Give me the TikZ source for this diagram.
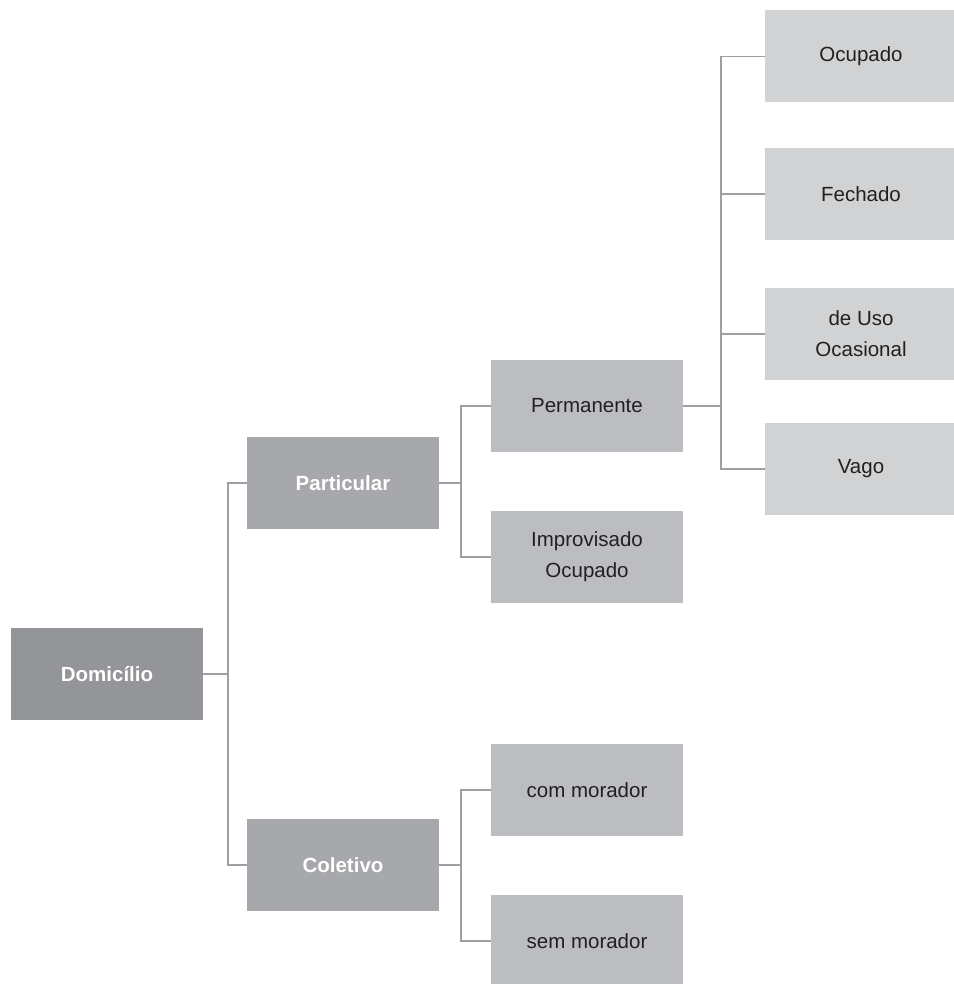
\documentclass[tikz,border=0pt]{standalone}
\usepackage{fontspec}
\setmainfont{Liberation Sans}
\definecolor{cdark}{RGB}{148,149,152}
\definecolor{cmid}{RGB}{167,168,171}
\definecolor{clight}{RGB}{188,189,192}
\definecolor{cpale}{RGB}{209,210,212}
\definecolor{cline}{RGB}{158,159,162}
\definecolor{ctext}{RGB}{35,31,32}
\tikzset{
  box/.style={rectangle, minimum width=192pt, minimum height=92pt, inner sep=0pt,
    align=center, font=\fontsize{20.5}{31}\selectfont},
  boldbox/.style={box, text=white, font=\fontsize{20.5}{31}\selectfont\bfseries},
  lvlone/.style={boldbox, fill=cdark},
  lvltwo/.style={boldbox, fill=cmid},
  lvlthree/.style={box, fill=clight, text=ctext},
  lvlfour/.style={box, fill=cpale, text=ctext},
  conn/.style={draw=cline, line width=1.8pt}
}
\begin{document}
\begin{tikzpicture}[x=1pt,y=-1pt]
\useasboundingbox (0,0) rectangle (953,984);
\node[lvlone] (dom) at (107,674) {Domicílio};
\node[lvltwo] (part) at (343,483) {Particular};
\node[lvltwo] (col) at (343,865) {Coletivo};
\node[lvlthree] (perm) at (587,406) {Permanente};
\node[lvlthree] (impr) at (587,557) {Improvisado\\Ocupado};
\node[lvlthree] (com) at (587,790) {com morador};
\node[lvlthree] (sem) at (587,941) {sem morador};
\node[lvlfour] (ocup) at (861,56.5) {Ocupado};
\node[lvlfour] (fech) at (861,194) {Fechado};
\node[lvlfour] (uso) at (861,334) {de Uso\\Ocasional};
\node[lvlfour] (vago) at (861,469) {Vago};
\draw[conn] (dom.east) -- ++(25,0) |- (part.west);
\draw[conn] (dom.east) -- ++(25,0) |- (col.west);
\draw[conn] (part.east) -- ++(22,0) |- (perm.west);
\draw[conn] (part.east) -- ++(22,0) |- (impr.west);
\draw[conn] (col.east) -- ++(22,0) |- (com.west);
\draw[conn] (col.east) -- ++(22,0) |- (sem.west);
\draw[conn] (perm.east) -- ++(38,0) |- (ocup.west);
\draw[conn] (perm.east) -- ++(38,0) |- (fech.west);
\draw[conn] (perm.east) -- ++(38,0) |- (uso.west);
\draw[conn] (perm.east) -- ++(38,0) |- (vago.west);
\end{tikzpicture}
\end{document}
